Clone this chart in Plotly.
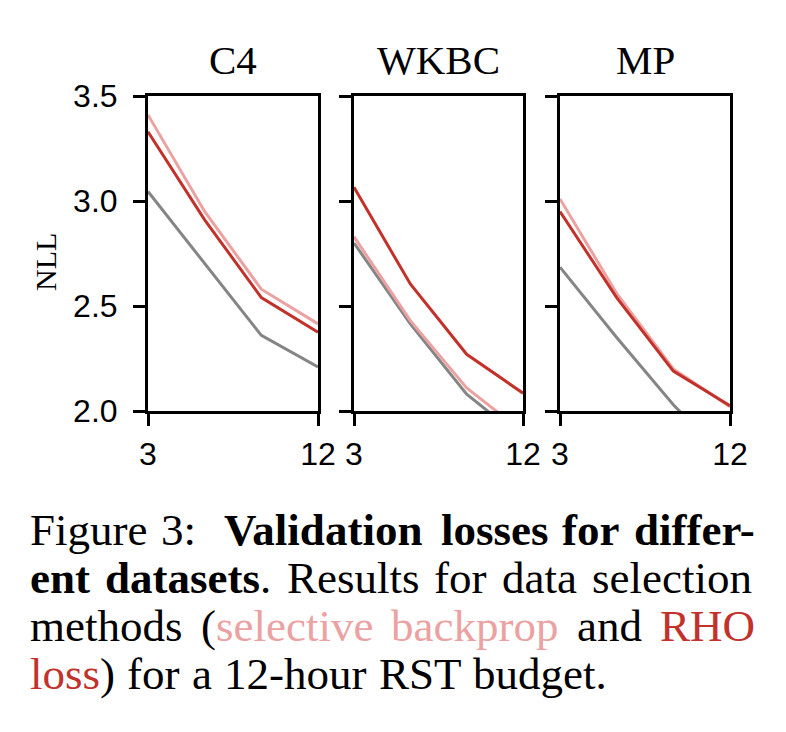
import plotly.graph_objects as go

datasets = ["C4", "WKBC", "MP"]
hours = [3, 6, 9, 12]
baseline = {
    "C4": [3.045, 2.70, 2.36, 2.21],
    "WKBC": [2.80, 2.415, 2.08, 1.865],
    "MP": [2.685, 2.35, 2.03, 1.75],
}
selective_backprop = {
    "C4": [3.41, 2.95, 2.58, 2.415],
    "WKBC": [2.83, 2.43, 2.11, 1.90],
    "MP": [3.01, 2.56, 2.20, 2.02],
}
rho_loss = {
    "C4": [3.33, 2.91, 2.54, 2.375],
    "WKBC": [3.065, 2.605, 2.27, 2.085],
    "MP": [2.95, 2.54, 2.19, 2.025],
}
y_ticks = [2.0, 2.5, 3.0, 3.5]
x_ticks = [3, 12]

GRAY = "#858585"
PINK = "#eba2a2"
RED = "#c2322a"

# caption: lines of words; each word is (text, style, text, style, ...)
# style: "r" regular, "b" bold, "p" pink, "d" red
caption = [
    [("Figure", "r"), ("3:", "r"), ("", "gap"), ("Validation", "b"), ("losses", "b"), ("for", "b"), ("differ-", "b")],
    [("ent", "b"), ("datasets", "b", ".", "r"), ("Results", "r"), ("for", "r"), ("data", "r"), ("selection", "r")],
    [("methods", "r"), ("(", "r", "selective", "p"), ("backprop", "p"), ("and", "r"), ("RHO", "d")],
    [("loss", "d", ")", "r"), ("for", "r"), ("a", "r"), ("12-hour", "r"), ("RST", "r"), ("budget.", "r")],
]
caption_right = [756, 752, 755, 607]

W, H = 786, 732
OFF = 8  # page body margin of the browser


def px(x):
    return (x - OFF) / W


def py(y):
    return 1 - (y - OFF) / H


fig = go.Figure()

x_domains = [(148, 318), (354, 523), (560, 730)]
y_dom = [py(411), py(96)]

for i, name in enumerate(datasets):
    ax = "" if i == 0 else str(i + 1)
    for series, color in [(baseline, GRAY), (selective_backprop, PINK), (rho_loss, RED)]:
        fig.add_trace(go.Scatter(
            x=hours, y=series[name], mode="lines",
            line=dict(color=color, width=3),
            xaxis="x" + ax, yaxis="y" + ax, showlegend=False,
        ))
    x0, x1 = x_domains[i]
    common = dict(
        showline=True, linecolor="black", linewidth=3, mirror=True,
        ticks="outside", ticklen=12, tickwidth=3, tickcolor="black",
        showgrid=False, zeroline=False, automargin=False,
        tickfont=dict(family="Liberation Sans", size=32, color="black"),
    )
    fig.update_layout(**{
        "xaxis" + ax: dict(
            domain=[px(x0), px(x1)], range=[3, 12], tickvals=x_ticks,
            anchor="y" + ax, ticklabelstandoff=1, **common,
        ),
        "yaxis" + ax: dict(
            domain=y_dom, range=[2.0, 3.5], tickvals=y_ticks,
            ticktext=[f"{v:.1f}" for v in y_ticks],
            showticklabels=(i == 0), anchor="x" + ax, ticklabelstandoff=9,
            **common,
        ),
    })
    fig.add_annotation(
        x=px((x0 + x1) / 2), y=py(60), xref="paper", yref="paper",
        text=name, showarrow=False, xanchor="center", yanchor="middle",
        font=dict(family="Liberation Serif", size=41, color="black"),
    )

fig.add_annotation(
    x=px(45), y=py(262), xref="paper", yref="paper", text="NLL",
    showarrow=False, textangle=-90, xanchor="center", yanchor="middle",
    font=dict(family="Liberation Serif", size=30, color="black"),
)

# Times-compatible advance widths (per 1000 em) for justification
REG = {" ": 250, "(": 333, ")": 333, "-": 333, ".": 250, ":": 278, "1": 500, "2": 500, "3": 500,
       "F": 556, "H": 722, "O": 722, "R": 667, "S": 556, "T": 611,
       "a": 444, "b": 500, "c": 444, "d": 500, "e": 444, "f": 333, "g": 500, "h": 500,
       "i": 278, "k": 500, "l": 278, "m": 778, "n": 500, "o": 500, "p": 500, "r": 333,
       "s": 389, "t": 278, "u": 500, "v": 500, "y": 500}
BOLD = {" ": 250, "-": 333, "V": 722, "a": 500, "d": 556, "e": 444, "f": 333, "i": 278,
        "l": 278, "n": 556, "o": 500, "r": 444, "s": 389, "t": 333}
CAP_SIZE = 45
COLORS = {"r": "black", "b": "black", "p": PINK, "d": RED}


def seg_width(txt, style):
    table = BOLD if style == "b" else REG
    return sum(table[c] for c in txt) / 1000 * CAP_SIZE


def seg_html(txt, style):
    if style == "b":
        return f"<b>{txt}</b>"
    if style in ("p", "d"):
        return f"<span style='color:{COLORS[style]}'>{txt}</span>"
    return txt


left = 30
for k, words in enumerate(caption):
    pieces = []
    for w in words:
        if len(w) == 2 and w[1] == "gap":
            pieces.append(None)
            continue
        segs = [(w[j], w[j + 1]) for j in range(0, len(w), 2)]
        pieces.append(("".join(seg_html(t, s) for t, s in segs), sum(seg_width(t, s) for t, s in segs)))
    n_gaps = len(pieces) - 1
    total = sum(p[1] for p in pieces if p)
    gap = (caption_right[k] - left - total) / n_gaps
    x = left
    yc = py(530 + 48 * k)
    for p in pieces:
        if p is None:
            x += gap
            continue
        fig.add_annotation(
            x=px(x - 1), y=yc, xref="paper", yref="paper", text=p[0],
            showarrow=False, xanchor="left", yanchor="middle", borderpad=0,
            font=dict(family="Liberation Serif", size=CAP_SIZE, color="black"),
        )
        x += p[1] + gap

fig.update_layout(
    width=W, height=H, margin=dict(l=0, r=0, t=0, b=0, autoexpand=False),
    paper_bgcolor="white", plot_bgcolor="white",
)
fig.write_html("out.html")
